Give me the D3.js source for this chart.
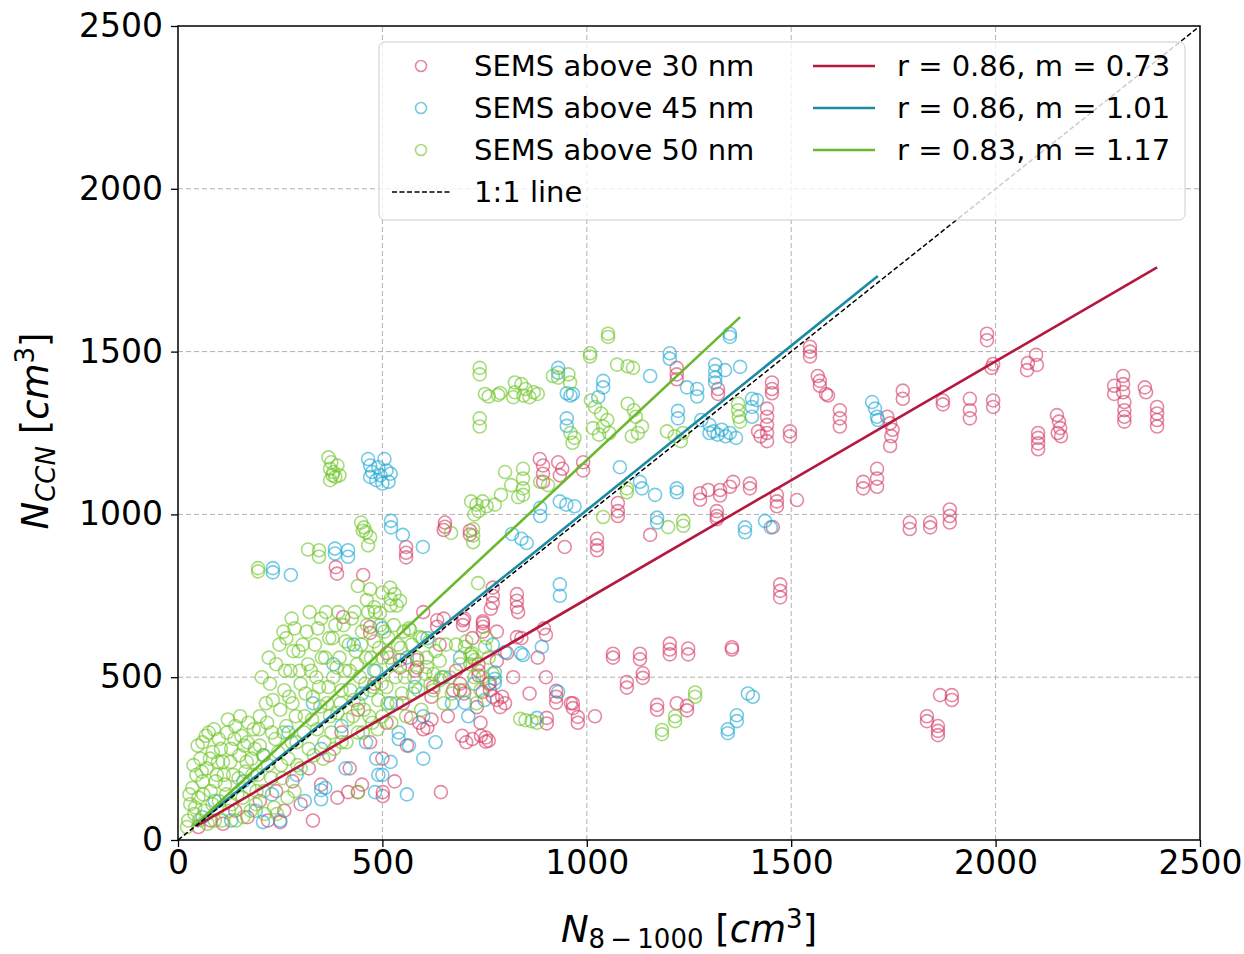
<!DOCTYPE html>
<html>
<head>
<meta charset="utf-8">
<script src="https://cdn.jsdelivr.net/npm/d3@7"></script>
<style>
  body { margin: 0; background: #fff; }
  svg { display: block; font-family: "DejaVu Sans", sans-serif; }
</style>
</head>
<body>
<svg id="chart"></svg>
<script>
// scatter series [N_8-1000, N_CCN]
const sems30 = [
  [2077,1443],[2079,1465],[2099,1490],[2101,1459],
  [2104,1250],[2104,1235],[2104,1218],[2104,1200],
  [2150,1305],[2155,1285],[2158,1265],[2152,1250],[2160,1240],
  [2290,1395],[2290,1370],
  [2312,1425],[2312,1400],[2312,1375],[2315,1345],[2315,1320],[2315,1300],[2315,1285],
  [2365,1390],[2368,1375],
  [2395,1330],[2395,1310],[2395,1290],[2395,1270],
  [1979,1555],[1979,1535],[1994,1462],[1990,1450],[1994,1350],[1994,1330],
  [1937,1355],[1937,1320],[1937,1295],[1871,1350],[1871,1338],
  [1773,1380],[1773,1355],
  [1735,1300],[1742,1280],[1748,1260],[1745,1240],[1742,1210],
  [1710,1140],[1710,1110],[1710,1085],[1676,1100],[1676,1080],
  [1790,975],[1790,955],[1840,975],[1840,960],[1888,1015],[1888,995],[1888,975],
  [1619,1320],[1619,1295],[1619,1270],[1585,1370],[1590,1365],
  [1565,1425],[1570,1410],[1570,1395],[1546,1515],[1546,1500],[1546,1485],
  [1497,1255],[1497,1240],[1514,1044],[1473,785],[1473,765],[1473,745],
  [1441,1325],[1441,1300],[1441,1275],[1441,1250],[1441,1225],[1419,1255],[1425,1240],
  [1453,1405],[1453,1385],[1453,1372],[1465,1060],[1465,1040],[1465,1025],[1455,961],
  [1399,1095],[1399,1080],[1358,1100],[1350,1085],[1326,1075],[1326,1058],
  [1277,1065],[1277,1045],[1297,1075],[1318,1010],[1318,995],[1318,985],
  [1321,1385],[1321,1370],[1220,1450],[1220,1430],[1220,1415],[1155,937],
  [1076,1035],[1076,1010],[1076,995],[1025,925],[1025,905],[1025,890],[946,900],
  [829,755],[829,735],[829,715],[885,1170],[893,1150],[893,1125],[893,1100],
  [930,1160],[940,1140],[934,1120],[991,1160],[991,1135],
  [1864,445],[1893,445],[1893,430],[1832,380],[1832,365],[1859,350],[1859,335],[1859,322],
  [1355,592],[1355,585],[1248,588],[1248,570],[1203,603],[1203,585],[1203,570],
  [1130,572],[1130,555],[1064,572],[1064,560],[1137,512],[1137,498],[1098,485],[1098,468],
  [1172,415],[1172,400],[1220,420],[1245,412],[1245,398],[1020,380],[978,378],[978,360],
  [966,420],[966,405],[925,458],[925,440],[925,422],[902,375],[902,358],[753,315],[753,302],
  [745,455],[770,440],[780,430],[895,650],[900,630],[746,666],[746,640],
  [653,975],[653,962],[650,952],[714,950],[714,938],[558,900],[558,882],[558,868],
  [386,838],[389,818],[453,814],
  [697,675],[697,660],[746,672],[746,655],[770,775],[770,750],[770,728],[765,710],
  [832,700],[829,623],[805,574],[735,540],[735,520],[735,505],[690,480],[690,460],
  [763,482],[763,460],[793,440],[634,675],[634,655],[470,654],[470,636],[404,685],
  [585,553],[585,530],[543,553],[543,530],[511,574],[673,460],[624,470],[731,408],[788,408],
  [643,147],[416,147],[440,147],[501,147],[501,135],[250,55],
  [695,320],[705,300],[720,310],[741,320],[760,305],[961,420],[570,375],[590,360],[610,345],[620,370],
  [50,40],[80,60],[110,50],[140,90],[170,70],[200,120],[220,60],[240,150],[260,90],[280,180],
  [300,110],[320,220],[330,60],[350,170],[370,260],[390,130],[400,330],[420,220],[440,400],[450,170],
  [470,300],[480,480],[500,250],[510,360],[530,180],[550,420],[560,290],[580,520],[600,340],[620,440],
  [640,600],[660,380],[680,520],[700,450],[720,620],[740,360],[760,480],[780,550],[800,420],[820,500],
  [840,620],[860,450],[880,560],[900,500],[780,640],[700,680],[600,700],[650,680]
];

const sems45 = [
  [465,1170],[470,1150],[475,1130],[470,1115],[490,1145],[495,1120],[505,1170],[510,1135],
  [520,1125],[515,1100],[485,1105],[500,1095],
  [521,980],[521,960],[550,937],[599,900],[384,895],[384,880],[416,890],[416,870],
  [232,835],[232,822],[276,814],
  [1350,1555],[1350,1545],[1203,1495],[1203,1478],[1155,1425],[1040,1410],[1040,1390],[1028,1360],
  [951,1372],[960,1365],[966,1370],[930,1450],[930,1435],[951,1295],[951,1272],
  [1245,1390],[1270,1385],[1270,1362],[1223,1318],[1223,1295],
  [1314,1460],[1314,1440],[1314,1420],[1314,1405],[1338,1443],[1375,1453],
  [1280,1290],[1300,1275],[1310,1255],[1320,1245],[1330,1260],[1340,1240],[1350,1250],[1365,1235],[1300,1250],
  [1404,1355],[1404,1330],[1404,1300],[1416,1351],
  [1698,1345],[1705,1325],[1710,1300],[1712,1290],
  [1081,1145],[1130,1100],[1135,1080],[1167,1060],[1220,1080],[1220,1068],
  [934,1040],[950,1030],[970,1025],[886,1020],[886,995],[817,940],[840,925],[853,912],
  [934,785],[934,750],[1172,990],[1172,975],[1387,960],[1387,945],[1436,980],[1450,960],
  [844,568],[890,593],[800,577],[775,515],[775,495],[775,482],[878,375],
  [1345,340],[1345,328],[1367,383],[1367,365],[1394,450],[1406,440],
  [839,574],[702,421],[482,147],[350,153],[350,125],[208,55],[930,455],
  [60,70],[90,120],[130,60],[160,180],[190,90],[210,260],[230,140],[250,60],[270,330],[290,200],
  [310,120],[330,420],[350,280],[360,160],[380,540],[400,350],[410,220],[430,600],[450,450],[460,300],
  [480,520],[490,200],[500,650],[520,420],[540,330],[560,560],[580,470],[600,380],[610,620],[630,300],
  [650,500],[670,420],[690,560],[710,380],[725,480],[750,430],[770,600],[520,240],[560,140],[600,250],
  [540,310],[565,290],[485,250],[500,200]
];

const sems50 = [
  [738,1450],[738,1430],[751,1370],[760,1362],[783,1367],[824,1405],[824,1375],[820,1360],[738,1295],[738,1270],
  [368,1175],[375,1160],[372,1140],[380,1130],[385,1115],[372,1105],[390,1150],[395,1120],[378,1120],
  [717,1040],[730,1030],[745,1040],[755,1025],[775,1030],[735,1010],[725,1000],
  [722,955],[722,935],[722,915],[668,943],[832,1053],
  [448,975],[455,960],[460,945],[470,930],[465,905],[452,950],[318,892],[345,890],[345,870],[196,835],[196,825],
  [1052,1555],[1052,1545],[1008,1495],[1008,1485],[1074,1460],[1100,1455],[1113,1450],
  [917,1425],[930,1420],[955,1430],[959,1405],[840,1400],[850,1385],[870,1375],[880,1370],[860,1360],[845,1365],[788,1373],
  [1010,1350],[1020,1330],[1035,1310],[1050,1290],[1040,1270],[1015,1265],[1055,1250],[1030,1245],
  [1100,1340],[1115,1320],[1120,1300],[1135,1270],[1125,1250],[1110,1240],
  [960,1250],[970,1235],[965,1220],[1196,1255],[1215,1240],[1235,1250],[1230,1225],
  [1370,1340],[1370,1320],[1372,1300],[1375,1285],
  [844,1140],[844,1110],[844,1080],[844,1060],[886,1100],[905,1090],[1098,1080],[1098,1068],
  [1040,992],[1236,980],[1236,965],[1199,961],[800,1130],[815,1090],[790,1060],
  [1265,453],[1265,440],[1216,380],[1216,365],[1184,338],[1184,325],[837,372],[850,368],[865,365],[878,360],[751,593],
  [440,780],[470,770],[500,760],[520,740],[535,720],[734,789],[702,593],[715,570],[726,553],
  [519,775],[530,755],[543,735],[520,720],[462,737],[480,715],[494,697],[719,574],[719,562],
  [568,645],[592,623],[609,531],[625,510],[641,491],[440,147],
  [25,60],[30,110],[35,160],[40,80],[45,200],[50,130],[55,250],[60,180],[60,300],[65,90],
  [70,220],[75,330],[80,150],[85,270],[90,60],[95,200],[100,310],[100,120],
  [110,240],[115,170],[120,330],[125,90],[130,280],[135,200],[140,350],[145,140],[150,260],[155,320],
  [160,70],[165,210],[170,300],[175,160],[180,250],[185,340],[190,110],[195,200],[200,290],[200,380],
  [210,150],[215,420],[220,230],[225,480],[230,330],[235,100],[240,540],[245,270],[250,400],[255,190],
  [260,460],[265,350],[270,250],[275,520],[280,420],[285,150],[290,300],[295,580],[300,480],[300,220],
  [265,620],[285,650],
  [310,380],[315,640],[320,280],[325,520],[330,440],[335,600],[340,340],[345,470],[350,680],[355,250],
  [360,560],[365,420],[370,620],[375,330],[380,500],[385,660],[390,390],[395,560],[400,460],[400,300],
  [410,610],[415,370],[420,520],[425,680],[430,430],[435,580],[440,330],[445,500],[450,640],[455,400],
  [460,560],[465,700],[470,460],[475,360],[480,610],[485,520],[490,430],[495,660],[500,560],[500,380],
  [510,470],[515,620],[525,540],[535,420],[545,590],[555,500],[565,650],[575,450],[585,560],[595,400],
  [605,510],[615,610],[625,460],[640,550],[650,420],
  [665,500],[680,600],[700,460],[715,540],[730,420],[745,500],[760,560],
  [22,40],[28,140],[38,230],[42,100],[48,290],[52,60],[58,210],[62,140],[68,320],[72,50],
  [78,250],[84,110],[88,340],[92,180],[98,240],
  [105,280],[108,60],[112,200],[118,140],[122,370],[128,240],[132,110],[138,310],[142,60],[148,190],
  [152,380],[158,130],[162,290],[168,240],[172,360],[178,90],[182,200],[188,280],[192,150],[198,340],
  [205,500],[208,260],[212,80],[218,360],[222,560],[228,190],[232,430],[238,310],[242,80],[248,600],
  [252,230],[258,330],[262,520],[268,130],[272,440],[278,300],[282,580],[288,380],[292,230],[298,520],
  [258,640],[278,680],
  [305,600],[308,330],[312,450],[318,540],[322,700],[328,370],[332,260],[338,500],[342,650],[348,410],
  [352,560],[358,300],[362,700],[368,470],[372,380],[378,620],[382,280],[388,530],[392,700],[398,420],
  [405,660],[408,520],[412,300],[418,600],[422,460],[428,380],[432,700],[438,540],[442,420],[448,600],
  [452,330],[458,480],[462,660],[468,380],[472,560],[478,470],[482,700],[488,340],[492,590],[498,480],
  [505,640],[512,420],[518,560],[522,360],[528,660],[532,500],[538,600],[548,450],[552,640],[558,380],
  [562,540],[572,600],[578,500],[588,460],[598,620],[608,560],[618,480],[630,580],[645,500],[655,600],
  [670,450],[690,540],[705,610],[725,500],[740,460],[755,620],[770,510]
];

const seriesNames = ["SEMS above 30 nm", "SEMS above 45 nm", "SEMS above 50 nm"];
const fitLabels = ["r = 0.86, m = 0.73", "r = 0.86, m = 1.01", "r = 0.83, m = 1.17"];
const fitSlope = [0.73, 1.01, 1.17];
const fitIntercept = [10, 3, -3];
const fitRange = [[45, 2395], [40, 1712], [40, 1375]];
const xTicks = [0, 500, 1000, 1500, 2000, 2500];
const yTicks = [0, 500, 1000, 1500, 2000, 2500];

const markerColors = ["#d33a62", "#1aa6d0", "#6cc525"];
const lineColors = ["#b5173f", "#1a8ba3", "#6ab82e"];

const width = 1244, height = 954;
const margin = { top: 26, right: 44, bottom: 114, left: 178 };

const svg = d3.select("#chart").attr("width", width).attr("height", height);

const x = d3.scaleLinear().domain([0, 2500]).range([margin.left, width - margin.right]);
const y = d3.scaleLinear().domain([0, 2500]).range([height - margin.bottom, margin.top]);

// grid
svg.append("g").selectAll("line").data(xTicks.slice(1, -1)).join("line")
  .attr("x1", d => x(d)).attr("x2", d => x(d))
  .attr("y1", y(0)).attr("y2", y(2500))
  .attr("stroke", "#b0b0b0").attr("stroke-width", 1).attr("stroke-dasharray", "5,3");
svg.append("g").selectAll("line").data(yTicks.slice(1, -1)).join("line")
  .attr("x1", x(0)).attr("x2", x(2500))
  .attr("y1", d => y(d)).attr("y2", d => y(d))
  .attr("stroke", "#b0b0b0").attr("stroke-width", 1).attr("stroke-dasharray", "5,3");

// scatter
[sems30, sems45, sems50].forEach((pts, i) => {
  svg.append("g").selectAll("circle").data(pts).join("circle")
    .attr("cx", d => x(d[0])).attr("cy", d => y(d[1]))
    .attr("r", 6.5)
    .attr("fill", "none")
    .attr("stroke", markerColors[i])
    .attr("stroke-opacity", 0.6)
    .attr("stroke-width", 1.6);
});

// fit lines
fitSlope.forEach((m, i) => {
  const [x0, x1] = fitRange[i];
  svg.append("line")
    .attr("x1", x(x0)).attr("y1", y(m * x0 + fitIntercept[i]))
    .attr("x2", x(x1)).attr("y2", y(m * x1 + fitIntercept[i]))
    .attr("stroke", lineColors[i]).attr("stroke-width", 2.6);
});

// 1:1 line
svg.append("line")
  .attr("x1", x(0)).attr("y1", y(0))
  .attr("x2", x(2500)).attr("y2", y(2500))
  .attr("stroke", "#000").attr("stroke-width", 1.5).attr("stroke-dasharray", "5,2.5");

// axes
const xAxis = svg.append("g")
  .attr("transform", `translate(0,${y(0)})`)
  .call(d3.axisBottom(x).tickValues(xTicks).tickSize(7).tickPadding(4).tickFormat(d3.format("d")));
const yAxis = svg.append("g")
  .attr("transform", `translate(${x(0)},0)`)
  .call(d3.axisLeft(y).tickValues(yTicks).tickSize(7).tickPadding(8).tickFormat(d3.format("d")));
[xAxis, yAxis].forEach(g => {
  g.select(".domain").remove();
  g.selectAll(".tick line").attr("stroke", "#000").attr("stroke-width", 1.3);
  g.selectAll(".tick text").attr("font-size", 33).attr("fill", "#000")
    .attr("font-family", "DejaVu Sans, sans-serif");
});

// frame
svg.append("rect")
  .attr("x", x(0)).attr("y", y(2500))
  .attr("width", x(2500) - x(0)).attr("height", y(0) - y(2500))
  .attr("fill", "none").attr("stroke", "#000").attr("stroke-width", 1.5);

// axis labels
const xl = svg.append("text")
  .attr("x", (x(0) + x(2500)) / 2).attr("y", 942)
  .attr("text-anchor", "middle").attr("font-size", 37).attr("fill", "#000");
xl.append("tspan").attr("font-style", "italic").text("N");
xl.append("tspan").attr("font-size", 26).attr("dy", 6).text("8\u2009\u2212\u20091000");
xl.append("tspan").attr("dy", -6).text(" [");
xl.append("tspan").attr("font-style", "italic").text("cm");
xl.append("tspan").attr("font-size", 26).attr("dy", -14).text("3");
xl.append("tspan").attr("dy", 14).text("]");

const yl = svg.append("text")
  .attr("transform", `translate(48,${(y(0) + y(2500)) / 2 - 2}) rotate(-90)`)
  .attr("text-anchor", "middle").attr("font-size", 37).attr("fill", "#000");
yl.append("tspan").attr("font-style", "italic").text("N");
yl.append("tspan").attr("font-style", "italic").attr("font-size", 26).attr("dy", 7).text("CCN");
yl.append("tspan").attr("dy", -7).text(" [");
yl.append("tspan").attr("font-style", "italic").text("cm");
yl.append("tspan").attr("font-size", 26).attr("dy", -14).text("3");
yl.append("tspan").attr("dy", 14).text("]");

// legend
const leg = svg.append("g");
leg.append("rect")
  .attr("x", 379).attr("y", 42).attr("width", 806).attr("height", 178).attr("rx", 6)
  .attr("fill", "#fff").attr("fill-opacity", 0.8)
  .attr("stroke", "#cccccc").attr("stroke-width", 1);
const rowY = [66, 108, 150, 192];
seriesNames.forEach((name, i) => {
  leg.append("circle").attr("cx", 421).attr("cy", rowY[i]).attr("r", 5.5)
    .attr("fill", "none").attr("stroke", markerColors[i]).attr("stroke-opacity", 0.6).attr("stroke-width", 1.6);
  leg.append("text").attr("x", 474).attr("y", rowY[i] + 10)
    .attr("font-size", 29).attr("fill", "#000").text(name);
  leg.append("line").attr("x1", 813).attr("x2", 875).attr("y1", rowY[i]).attr("y2", rowY[i])
    .attr("stroke", lineColors[i]).attr("stroke-width", 2.6);
  leg.append("text").attr("x", 897).attr("y", rowY[i] + 10)
    .attr("font-size", 29).attr("fill", "#000").text(fitLabels[i]);
});
leg.append("line").attr("x1", 392).attr("x2", 450).attr("y1", rowY[3]).attr("y2", rowY[3])
  .attr("stroke", "#000").attr("stroke-width", 1.5).attr("stroke-dasharray", "5,2.5");
leg.append("text").attr("x", 474).attr("y", rowY[3] + 10)
  .attr("font-size", 29).attr("fill", "#000").text("1:1 line");
</script>
</body>
</html>
